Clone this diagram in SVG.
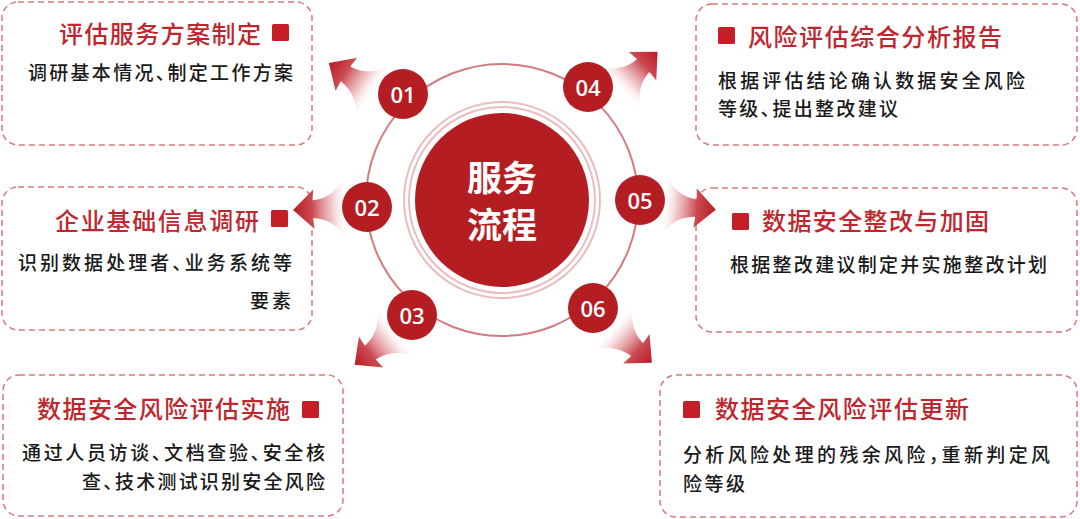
<svg xmlns="http://www.w3.org/2000/svg" width="1080" height="519" viewBox="0 0 1080 519">
<defs>
<style>
.box{fill:none;stroke:#d8787e;stroke-width:1.5;stroke-dasharray:6 4}
.title{font-family:"Noto Sans CJK SC","Noto Sans",sans-serif;font-size:24px;font-weight:500;fill:#c0262d}
.body{font-family:"Noto Sans CJK SC","Noto Sans",sans-serif;font-size:19px;font-weight:500;fill:#1a1a1a;font-feature-settings:"halt"}
.sq{fill:#c41e26}
.num circle{fill:#b41e23}
.num text{font-family:"Open Sans","Noto Sans",sans-serif;font-size:22px;font-weight:600;fill:#ffffff;text-anchor:middle;dominant-baseline:central}
.arrow{fill:url(#ag)}
.ctr{font-family:"Noto Sans CJK SC","Noto Sans",sans-serif;font-size:35px;font-weight:700;fill:#ffffff;text-anchor:middle;dominant-baseline:central}
</style>
<linearGradient id="ag" gradientUnits="userSpaceOnUse" x1="0" y1="0" x2="50" y2="0">
<stop offset="0" stop-color="#ffffff" stop-opacity="0"/>
<stop offset="0.3" stop-color="#eab3b6" stop-opacity="0.75"/>
<stop offset="0.65" stop-color="#cc4a52"/>
<stop offset="1" stop-color="#b71c24"/>
</linearGradient>
<path id="arr" d="M0,-30 C12,-12 22,-9 32,-8 L31,-18 L50,0 L31,18 L32,8 C22,9 12,12 0,30 Z"/>
</defs>
<rect width="1080" height="519" fill="#ffffff"/>

<g id="node-box1">
<rect class="box" x="2" y="2" width="310" height="143" rx="16"/>
<text class="title" x="59" y="43" textLength="202">评估服务方案制定</text>
<rect class="sq" x="272" y="24" width="17" height="17" rx="1.5"/>
<text class="body" x="28" y="80" textLength="265">调研基本情况、制定工作方案</text>
</g>
<g id="node-box2">
<rect class="box" x="2" y="187" width="310" height="143" rx="16"/>
<text class="title" x="55" y="230" textLength="204">企业基础信息调研</text>
<rect class="sq" x="271" y="210" width="17" height="17" rx="1.5"/>
<text class="body" x="18" y="270" textLength="274">识别数据处理者、业务系统等</text>
<text class="body" x="250" y="308" textLength="41">要素</text>
</g>
<g id="node-box3">
<rect class="box" x="3" y="375" width="340" height="141" rx="16"/>
<text class="title" x="37" y="418" textLength="253">数据安全风险评估实施</text>
<rect class="sq" x="302" y="401" width="17" height="17" rx="1.5"/>
<text class="body" x="22" y="460" textLength="303">通过人员访谈、文档查验、安全核</text>
<text class="body" x="82" y="489" textLength="243">查、技术测试识别安全风险</text>
</g>
<g id="node-box4">
<rect class="box" x="696" y="4" width="381" height="141" rx="16"/>
<rect class="sq" x="718" y="27" width="17" height="17" rx="1.5"/>
<text class="title" x="748" y="46" textLength="254">风险评估综合分析报告</text>
<text class="body" x="718" y="88" textLength="307">根据评估结论确认数据安全风险</text>
<text class="body" x="718" y="116" textLength="180">等级、提出整改建议</text>
</g>
<g id="node-box5">
<rect class="box" x="696" y="188" width="381" height="144" rx="16"/>
<rect class="sq" x="732" y="213" width="17" height="17" rx="1.5"/>
<text class="title" x="762" y="230" textLength="227">数据安全整改与加固</text>
<text class="body" x="730" y="272" textLength="317">根据整改建议制定并实施整改计划</text>
</g>
<g id="node-box6">
<rect class="box" x="660" y="375" width="417" height="142" rx="16"/>
<rect class="sq" x="683" y="401" width="17" height="17" rx="1.5"/>
<text class="title" x="715" y="418" textLength="254">数据安全风险评估更新</text>
<text class="body" x="683" y="462" textLength="367">分析风险处理的残余风险，重新判定风</text>
<text class="body" x="683" y="491" textLength="62">险等级</text>
</g>

<g id="connectors">
<circle cx="502" cy="200" r="136" fill="none" stroke="#d27b80" stroke-width="2"/>
<use href="#arr" class="arrow" transform="translate(375,93) rotate(-147) scale(1.1)"/>
<use href="#arr" class="arrow" transform="translate(348,208) rotate(178) scale(1.1)"/>
<use href="#arr" class="arrow" transform="translate(398,331) rotate(142) scale(1.1)"/>
<use href="#arr" class="arrow" transform="translate(618,90) rotate(-44) scale(1.1)"/>
<use href="#arr" class="arrow" transform="translate(661,205) rotate(5) scale(1.1)"/>
<use href="#arr" class="arrow" transform="translate(611,326) rotate(42) scale(1.1)"/>
</g>

<g id="node-center">
<circle cx="502" cy="200" r="98" fill="none" stroke="#ebbcbe" stroke-width="2"/>
<circle cx="502" cy="200" r="93" fill="none" stroke="#ebbcbe" stroke-width="2"/>
<circle cx="502" cy="200" r="87" fill="#b41e23"/>
<text class="ctr" x="502" y="175">服务</text>
<text class="ctr" x="502" y="222">流程</text>
</g>

<g id="node-01" class="num"><circle cx="403" cy="94" r="25"/><text x="403" y="94">01</text></g>
<g id="node-02" class="num"><circle cx="367" cy="207" r="25"/><text x="367" y="207">02</text></g>
<g id="node-03" class="num"><circle cx="412" cy="315" r="25"/><text x="412" y="315">03</text></g>
<g id="node-04" class="num"><circle cx="588" cy="87" r="25"/><text x="588" y="87">04</text></g>
<g id="node-05" class="num"><circle cx="640" cy="200" r="25"/><text x="640" y="200">05</text></g>
<g id="node-06" class="num"><circle cx="593" cy="308" r="25"/><text x="593" y="308">06</text></g>
</svg>
